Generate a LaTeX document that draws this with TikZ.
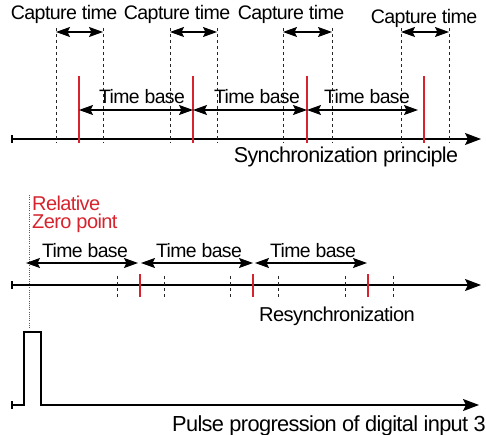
\documentclass[tikz,border=0pt]{standalone}
\usepackage{fontspec}
\setmainfont{Liberation Sans}[LetterSpace=-3]
\usetikzlibrary{arrows.meta}
\definecolor{sred}{RGB}{215,35,45}
\begin{document}
\begin{tikzpicture}[x=1pt,y=-1pt,
  axis/.style={line width=1.4pt,-{Stealth[length=16pt,width=12pt,inset=3pt]}},
  plain/.style={line width=1.4pt},
  dim/.style={line width=1.1pt,{Stealth[length=14pt,width=10pt,inset=2.5pt]}-{Stealth[length=14pt,width=10pt,inset=2.5pt]}},
  guide/.style={dash pattern=on 3pt off 3pt,line width=0.9pt,black!85},
  redmark/.style={sred,line width=1.3pt},
  lbl/.style={anchor=base,inner sep=0pt,font=\fontsize{19.4}{21}\selectfont},
  biglbl/.style={anchor=base,inner sep=0pt,font=\fontsize{21.8}{23}\selectfont},
  redlbl/.style={anchor=base west,inner sep=0pt,text=sred,align=left,font=\fontsize{20}{18}\selectfont}]
\useasboundingbox (0,0) rectangle (486,435);

% ---------- top: synchronization principle ----------
\coordinate (A1s) at (12,139);
\coordinate (A1e) at (481,139);
\coordinate (A1t) at (12,135);
\coordinate (A1b) at (12,143);
\draw[axis] (A1s) -- (A1e);
\draw[plain] (A1t) -- (A1b);

\foreach \x [count=\i] in {56,103,170,217,283,332,401,449}{
  \coordinate (G\i t) at (\x,28);
  \coordinate (G\i b) at (\x,143);
  \draw[guide] (G\i t) -- (G\i b);
}
\foreach \x [count=\i] in {79,193,307,424}{
  \coordinate (R\i t) at (\x,76);
  \coordinate (R\i b) at (\x,143);
  \draw[redmark] (R\i t) -- (R\i b);
}
% capture time arrows
\coordinate (C1a) at (56,32);  \coordinate (C1b) at (103,32);
\coordinate (C2a) at (170,32); \coordinate (C2b) at (217,32);
\coordinate (C3a) at (283,32); \coordinate (C3b) at (332,32);
\coordinate (C4a) at (401,32); \coordinate (C4b) at (449,32);
\draw[dim] (C1a) -- (C1b);
\draw[dim] (C2a) -- (C2b);
\draw[dim] (C3a) -- (C3b);
\draw[dim] (C4a) -- (C4b);
\node[lbl,font=\fontsize{19.6}{21}\selectfont] (cl1) at (64,20) {Capture time};
\node[lbl,font=\fontsize{19.6}{21}\selectfont] (cl2) at (177,20) {Capture time};
\node[lbl,font=\fontsize{19.6}{21}\selectfont] (cl3) at (291,20) {Capture time};
\node[lbl,font=\fontsize{19.6}{21}\selectfont] (cl4) at (424,24) {Capture time};
% time base arrows
\coordinate (T1a) at (79,110);  \coordinate (T1b) at (193,110);
\coordinate (T2a) at (193,110); \coordinate (T2b) at (307,110);
\coordinate (T3a) at (307,110); \coordinate (T3b) at (418,110);
\draw[dim] (T1a) -- (T1b);
\draw[dim] (T2a) -- (T2b);
\draw[dim] (T3a) -- (T3b);
\node[lbl] (tb1) at (142,104) {Time base};
\node[lbl] (tb2) at (257,104) {Time base};
\node[lbl] (tb3) at (367,104) {Time base};
\node[biglbl,font=\fontsize{21.5}{23}\selectfont] (sp) at (346,163) {Synchronization principle};

% ---------- middle: resynchronization ----------
\coordinate (Zt) at (29,195);
\coordinate (Zb) at (29,328);
\draw[sred,line width=0.8pt,dash pattern=on 1pt off 1.2pt] (Zt) -- (Zb);
\node[redlbl] (rz) at (32,229) {Relative\\Zero point};

\coordinate (A2s) at (12,285);
\coordinate (A2e) at (481,285);
\coordinate (A2t) at (12,281);
\coordinate (A2b) at (12,289);
\draw[axis] (A2s) -- (A2e);
\draw[plain] (A2t) -- (A2b);

\foreach \x [count=\i] in {117,164,230,278,345,393}{
  \coordinate (H\i t) at (\x,276);
  \coordinate (H\i b) at (\x,297);
  \draw[guide] (H\i t) -- (H\i b);
}
\foreach \x [count=\i] in {140,253,368}{
  \coordinate (S\i t) at (\x,274);
  \coordinate (S\i b) at (\x,297);
  \draw[redmark] (S\i t) -- (S\i b);
}
\coordinate (U1a) at (26,263);  \coordinate (U1b) at (138,263);
\coordinate (U2a) at (141,263); \coordinate (U2b) at (253,263);
\coordinate (U3a) at (255,263); \coordinate (U3b) at (367,263);
\draw[dim] (U1a) -- (U1b);
\draw[dim] (U2a) -- (U2b);
\draw[dim] (U3a) -- (U3b);
\node[lbl] (ub1) at (85,257) {Time base};
\node[lbl] (ub2) at (199,257) {Time base};
\node[lbl] (ub3) at (313,257) {Time base};
\node[lbl,font=\fontsize{20.1}{22}\selectfont] (rs) at (337,321) {Resynchronization};

% ---------- bottom: pulse ----------
\coordinate (P0) at (12,405);
\coordinate (P1) at (24,405);
\coordinate (P2) at (24,332);
\coordinate (P3) at (41,332);
\coordinate (P4) at (41,405);
\coordinate (P5) at (479,405);
\coordinate (P0t) at (12,401);
\coordinate (P0b) at (12,409);
\draw[axis,line width=1.3pt] (P0) -- (P1) -- (P2) -- (P3) -- (P4) -- (P5);
\draw[plain,line width=1.3pt] (P0t) -- (P0b);
\node[biglbl] (pp) at (329,431.5) {Pulse progression of digital input 3};
\end{tikzpicture}
\end{document}
